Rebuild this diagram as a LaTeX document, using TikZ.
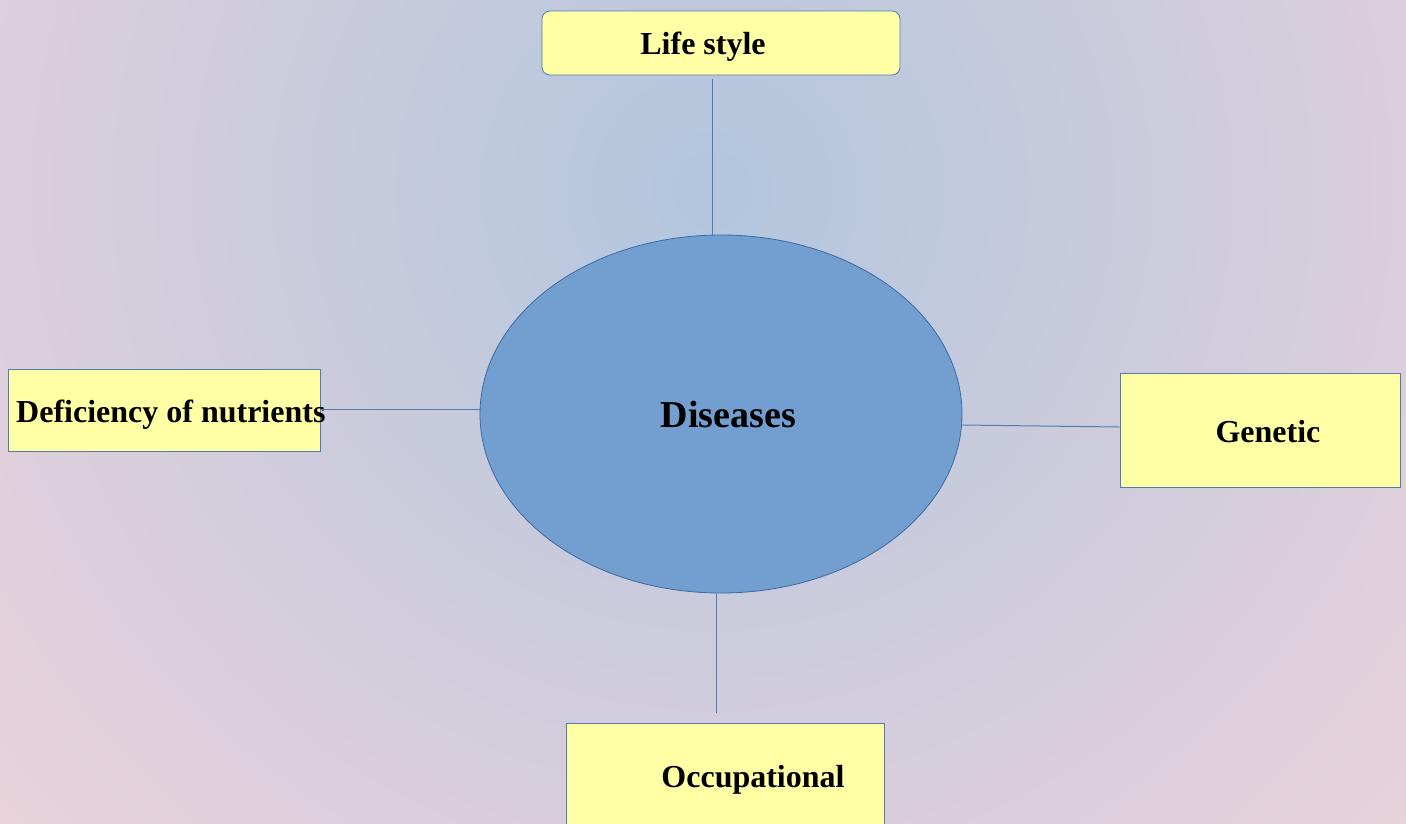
\documentclass[tikz,border=0pt]{standalone}
\usepackage{fontspec}
\setmainfont{Liberation Serif}
\usetikzlibrary{shapes.geometric}
\definecolor{bgC}{RGB}{178,198,222}
\definecolor{bgE}{RGB}{234,210,218}
\definecolor{boxfill}{RGB}{255,255,166}
\definecolor{edge}{RGB}{84,122,178}
\definecolor{ellfill}{RGB}{114,159,207}
\definecolor{elledge}{RGB}{60,105,165}
\tikzset{
  box/.style={draw=edge, fill=boxfill, line width=0.8pt, inner sep=0pt},
  lbl/.style={font=\fontsize{32}{36}\selectfont\bfseries, text=black, inner sep=0pt, anchor=base},
  conn/.style={draw=edge, line width=1pt}
}
\begin{document}
\begin{tikzpicture}[x=1pt,y=-1pt]
\useasboundingbox (0,0) rectangle (1406,823);
\begin{scope}
  \clip (0,0) rectangle (1406,823);
  \shade[inner color=bgC, outer color=bgE] (712,190) circle (960);
\end{scope}
% boxes
\node[box, rounded corners=8pt, minimum width=358pt, minimum height=64pt] (life) at (721,43) {};
\node[lbl] (lifet) at (703,54) {Life style};
\node[box, minimum width=312pt, minimum height=82pt] (defi) at (164,410) {};
\node[lbl, anchor=base west] (defit) at (16,422) {Deficiency of nutrients};
\node[box, minimum width=280pt, minimum height=114pt] (gene) at (1260,430) {};
\node[lbl] (genet) at (1268,442) {Genetic};
\node[box, minimum width=318pt, minimum height=140pt] (occu) at (725,793) {};
\node[lbl] (occut) at (753,787) {Occupational};
% ellipse
\node[ellipse, draw=elledge, fill=ellfill, line width=0.8pt, minimum width=482pt, minimum height=358pt, inner sep=0pt] (dis) at (721,414) {};
\node[font=\fontsize{38}{42}\selectfont\bfseries, inner sep=0pt, anchor=base] (dist) at (728.5,427) {Diseases};
% connector ends
\coordinate (lifeEnd) at (712,79);
\coordinate (occEnd) at (716,713);
\draw[conn] (lifeEnd) -- (dis.north -| lifeEnd);
\draw[conn] (dis.south -| occEnd) -- (occEnd);
\draw[conn] (defi.east |- 0,409) -- (dis.west |- 0,409);
\draw[conn] (dis.east |- 0,425) -- (gene.west |- 0,427);
\end{tikzpicture}
\end{document}
